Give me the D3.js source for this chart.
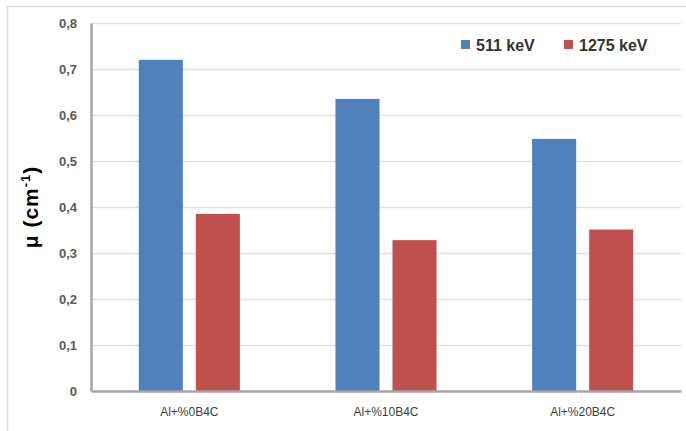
<!DOCTYPE html>
<html>
<head>
<meta charset="utf-8">
<script src="https://cdn.jsdelivr.net/npm/d3@7"></script>
<style>
  html, body { margin: 0; padding: 0; background: #fff; }
  svg { display: block; }
</style>
</head>
<body>
<div id="chart"></div>
<script>
const categories = ['Al+%0B4C', 'Al+%10B4C', 'Al+%20B4C'];
const seriesNames = ['511 keV', '1275 keV'];
const values511 = [0.720, 0.635, 0.548];
const values1275 = [0.385, 0.328, 0.351];
const yTicks = [0, 0.1, 0.2, 0.3, 0.4, 0.5, 0.6, 0.7, 0.8];
const colors = ['#4f81bd', '#c0504d'];

const W = 686, H = 431;
const margin = { top: 23, right: 5, bottom: 40, left: 91 };

const svg = d3.select('#chart').append('svg')
  .attr('width', W)
  .attr('height', H);

// outer chart border (cropped at right / bottom)
svg.append('rect')
  .attr('x', 7.5).attr('y', 6.5)
  .attr('width', 700).attr('height', 450)
  .attr('fill', 'none')
  .attr('stroke', '#d9d9d9')
  .attr('stroke-width', 1.5);

const x0 = d3.scaleBand().domain(categories)
  .range([margin.left, W - margin.right])
  .paddingInner(0.486).paddingOuter(0.243);
const x1 = d3.scaleBand().domain(seriesNames)
  .range([0, x0.bandwidth()])
  .paddingInner(0.228);
const y = d3.scaleLinear().domain([0, 0.8]).range([H - margin.bottom, margin.top]);

const fmt = d => d3.format('.1f')(d).replace('.', ',').replace(/^0,0$/, '0');

// gridlines
svg.append('g')
  .selectAll('line')
  .data(yTicks.filter(d => d > 0))
  .join('line')
  .attr('x1', margin.left).attr('x2', W - margin.right)
  .attr('y1', d => Math.round(y(d)) + 0.5).attr('y2', d => Math.round(y(d)) + 0.5)
  .attr('stroke', '#e0e0e0')
  .attr('stroke-width', 1.5);

// bars
const rows = categories.map((c, i) => ({ cat: c, vals: [values511[i], values1275[i]] }));
svg.append('g')
  .selectAll('g')
  .data(rows)
  .join('g')
  .attr('transform', d => `translate(${x0(d.cat)},0)`)
  .selectAll('rect')
  .data(d => d.vals.map((v, j) => ({ key: seriesNames[j], v, j })))
  .join('rect')
  .attr('x', d => x1(d.key))
  .attr('y', d => y(d.v))
  .attr('width', x1.bandwidth())
  .attr('height', d => y(0) - y(d.v))
  .attr('fill', d => colors[d.j]);

// y axis
const yAxis = svg.append('g')
  .attr('transform', `translate(${margin.left},0)`)
  .call(d3.axisLeft(y).tickValues(yTicks).tickSize(0).tickPadding(14).tickFormat(fmt));
yAxis.select('.domain').attr('stroke', '#a6a6a6').attr('stroke-width', 2.5);
yAxis.selectAll('text')
  .attr('font-family', 'Liberation Sans, Arial, sans-serif')
  .attr('font-size', '13px')
  .attr('font-weight', 'bold')
  .attr('fill', '#595959');

// x axis
const xAxis = svg.append('g')
  .attr('transform', `translate(0,${y(0)})`)
  .call(d3.axisBottom(x0).tickSize(0).tickPadding(16));
xAxis.select('.domain').attr('stroke', '#a6a6a6').attr('stroke-width', 2.5);
xAxis.selectAll('text')
  .attr('font-family', 'Liberation Sans Narrow, Liberation Sans, Arial, sans-serif')
  .attr('font-size', '12px')
  .attr('fill', '#404040');

// y axis title
svg.append('text')
  .attr('transform', `translate(38,${(y(0) + y(0.8)) / 2}) rotate(-90)`)
  .attr('text-anchor', 'middle')
  .attr('font-family', 'Liberation Sans, Arial, sans-serif')
  .attr('font-size', '21px')
  .attr('font-weight', 'bold')
  .attr('letter-spacing', '1px')
  .attr('fill', '#000')
  .html('μ (cm<tspan dy="-8" font-size="13px">-1</tspan><tspan dy="8">)</tspan>');

// legend
const legendX = [461, 564];
const legend = svg.append('g');
seriesNames.forEach((name, i) => {
  legend.append('rect')
    .attr('x', legendX[i]).attr('y', 40)
    .attr('width', 9).attr('height', 9)
    .attr('fill', colors[i]);
  legend.append('text')
    .attr('x', legendX[i] + 15).attr('y', 51)
    .attr('font-family', 'Liberation Sans, Arial, sans-serif')
    .attr('font-size', '16px')
    .attr('font-weight', 'bold')
    .attr('fill', '#333')
    .text(name);
});
</script>
</body>
</html>
